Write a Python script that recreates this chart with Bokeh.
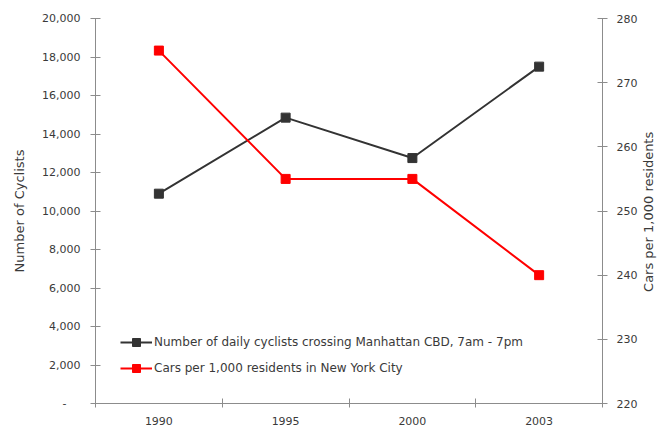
import math
from bokeh.plotting import figure
from bokeh.models import (Range1d, LinearAxis, FixedTicker, NumeralTickFormatter,
                          Legend, LegendItem)
from bokeh.embed import file_html
from bokeh.resources import INLINE

years = ["1990", "1995", "2000", "2003"]
cyclists = [10900, 14850, 12750, 17500]
cars_per_1000 = [275, 255, 255, 240]
left_ticks = [0, 2000, 4000, 6000, 8000, 10000, 12000, 14000, 16000, 18000, 20000]
right_ticks = [220, 230, 240, 250, 260, 270, 280]

FONT = "DejaVu Sans"
TXT = "#3a3a3a"
AX = "#8c8c8c"

xpos = [i + 0.5 for i in range(len(years))]

p = figure(frame_width=507, frame_height=385, min_border_left=95, min_border_right=59,
           min_border_top=18, min_border_bottom=24,
           x_range=Range1d(0, len(years)), y_range=Range1d(0, 20000),
           output_backend="svg", toolbar_location=None, x_axis_location=None,
           y_axis_location=None)
p.outline_line_color = None
p.xgrid.visible = False
p.ygrid.visible = False
p.background_fill_color = "white"
p.border_fill_color = "white"

p.extra_y_ranges = {"cars": Range1d(220, 280)}

# bottom axis
xa = LinearAxis(ticker=FixedTicker(ticks=xpos, minor_ticks=list(range(len(years) + 1))))
xa.major_label_overrides = {x: y for x, y in zip(xpos, years)}
xa.major_tick_in = 0
xa.major_tick_out = 0
xa.minor_tick_in = 5
xa.minor_tick_out = 4
xa.major_label_standoff = 9
p.add_layout(xa, "below")

# left axis
ya = LinearAxis(ticker=FixedTicker(ticks=left_ticks, minor_ticks=[]),
                formatter=NumeralTickFormatter(format="0,0"))
ya.major_label_overrides = {0: "-\u00a0\u00a0\u00a0\u00a0"}
ya.axis_label = "Number of Cyclists"
ya.axis_label_standoff = 12
ya.major_label_standoff = 10
p.add_layout(ya, "left")

# right axis (ticks and labels)
ra = LinearAxis(y_range_name="cars", ticker=FixedTicker(ticks=right_ticks, minor_ticks=[]))
ra.major_label_standoff = 9
p.add_layout(ra, "right")

# right axis title, reading bottom to top, carried by a bare axis
rt = LinearAxis(y_range_name="cars", ticker=FixedTicker(ticks=[], minor_ticks=[]))
rt.axis_line_color = None
rt.major_tick_line_color = None
rt.minor_tick_line_color = None
rt.major_tick_in = 0
rt.major_tick_out = 0
rt.major_label_standoff = 0
rt.axis_label = "\u00a0" * 27 + "Cars per 1,000 residents"
rt.axis_label_standoff = 8
rt.axis_label_orientation = math.pi / 2
rt.axis_label_align = "start"
p.add_layout(rt, "right")

for ax in (xa, ya, ra, rt):
    ax.major_label_text_font = FONT
    ax.major_label_text_font_size = "11px"
    ax.major_label_text_color = TXT
    ax.axis_label_text_font = FONT
    ax.axis_label_text_font_size = "13px"
    ax.axis_label_text_font_style = "normal"
    ax.axis_label_text_color = TXT
for ax in (xa, ya, ra):
    ax.axis_line_color = AX
    ax.major_tick_line_color = AX
    ax.minor_tick_line_color = AX
for ax in (ya, ra):
    ax.major_tick_in = 5
    ax.major_tick_out = 5

# series
l1 = p.line(xpos, cyclists, line_color="#333333", line_width=2)
s1 = p.scatter(xpos, cyclists, marker="square", size=9, fill_color="#333333", line_color="#333333")
l2 = p.line(xpos, cars_per_1000, line_color="#ff0000", line_width=2, y_range_name="cars")
s2 = p.scatter(xpos, cars_per_1000, marker="square", size=9, fill_color="#ff0000",
               line_color="#ff0000", y_range_name="cars")

legend = Legend(items=[
    LegendItem(label="Number of daily cyclists crossing Manhattan CBD, 7am - 7pm", renderers=[l1, s1]),
    LegendItem(label="Cars per 1,000 residents in New York City", renderers=[l2, s2]),
], location=(25, 25))
legend.border_line_color = None
legend.background_fill_alpha = 0
legend.padding = 0
legend.margin = 0
legend.spacing = 6
legend.glyph_width = 32
legend.glyph_height = 20
legend.label_height = 20
legend.label_standoff = 2
legend.label_text_font = FONT
legend.label_text_font_size = "12px"
legend.label_text_color = TXT
p.add_layout(legend, "center")

open("out.html", "w").write(file_html(p, INLINE))
